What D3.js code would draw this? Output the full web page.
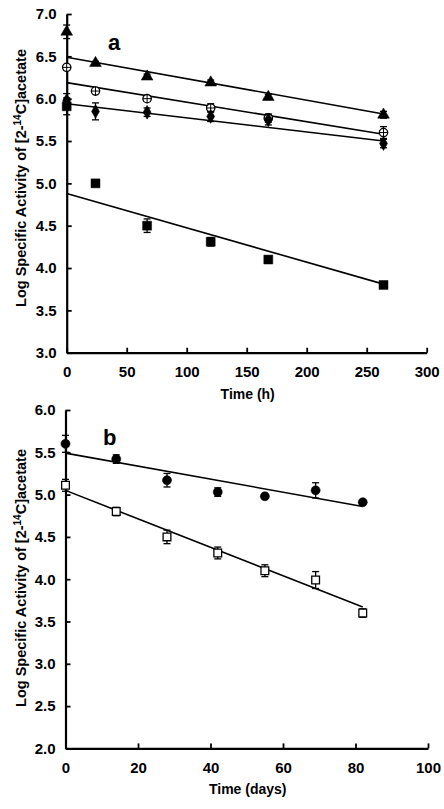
<!DOCTYPE html>
<html><head><meta charset="utf-8">
<script src="https://cdn.jsdelivr.net/npm/d3@7"></script>
<style>body{margin:0;background:#fff}svg text{font-family:"Liberation Sans",Arial,sans-serif;font-weight:bold;fill:#000}</style>
</head><body><svg id="c" width="444" height="809"></svg>
<script>
// Panel a: time in hours
const hoursA = [0, 24, 67, 120, 168, 264];
const triA = [6.79, 6.42, 6.26, 6.19, 6.02, 5.81];
const triErr = [0.08, 0.02, 0.03, 0.03, 0.03, 0.04];
const circA = [6.37, 6.09, 6.00, 5.89, 5.77, 5.60];
const circErr = [0.03, 0.02, 0.03, 0.05, 0.05, 0.07];
const diamA = [5.98, 5.85, 5.84, 5.79, 5.75, 5.47];
const diamErr = [0.08, 0.10, 0.05, 0.06, 0.06, 0.05];
const sqA = [5.91, 5.00, 4.50, 4.31, 4.10, 3.80];
const sqErr = [0.10, 0.01, 0.08, 0.05, 0.02, 0.02];
const fitTriA = [6.49, 5.82];
const fitCircA = [6.19, 5.58];
const fitDiamA = [5.94, 5.50];
const fitSqA = [4.88, 3.81];
const fitRangeA = [0, 264];
const xTicksA = [0, 50, 100, 150, 200, 250, 300];
const yTicksA = [3.0, 3.5, 4.0, 4.5, 5.0, 5.5, 6.0, 6.5, 7.0];

// Panel b: time in days
const daysB = [0, 14, 28, 42, 55, 69, 82];
const dotB = [5.60, 5.42, 5.17, 5.03, 4.98, 5.05, 4.91];
const dotErr = [0.10, 0.05, 0.08, 0.05, 0.01, 0.09, 0.01];
const openSqB = [5.11, 4.80, 4.50, 4.31, 4.10, 3.99, 3.60];
const openSqErr = [0.07, 0.05, 0.08, 0.07, 0.07, 0.10, 0.05];
const fitDotB = [5.49, 4.86];
const fitSqB = [5.05, 3.67];
const fitRangeB = [0, 82];
const xTicksB = [0, 20, 40, 60, 80, 100];
const yTicksB = [2.0, 2.5, 3.0, 3.5, 4.0, 4.5, 5.0, 5.5, 6.0];

const yTitle = "Log Specific Activity of [2-";
const svg = d3.select("#c");

function panel(cfg) {
  const g = svg.append("g");
  const x = d3.scaleLinear().domain(cfg.xDomain).range([cfg.left, cfg.right]);
  const y = d3.scaleLinear().domain(cfg.yDomain).range([cfg.bottom, cfg.top]);
  const xa = g.append("g").attr("transform", `translate(0,${cfg.bottom})`)
    .call(d3.axisBottom(x).tickValues(cfg.xTicks).tickSizeInner(-5).tickSizeOuter(0).tickPadding(14).tickFormat(d3.format("d")));
  const ya = g.append("g").attr("transform", `translate(${cfg.left},0)`)
    .call(d3.axisLeft(y).tickValues(cfg.yTicks).tickSizeInner(-5).tickSizeOuter(0).tickPadding(10).tickFormat(d3.format(".1f")));
  [xa, ya].forEach(a => {
    a.select(".domain").attr("stroke", "#000").attr("stroke-width", 2.2);
    a.selectAll(".tick line").attr("stroke", "#000").attr("stroke-width", 1.8);
    a.selectAll("text").style("font-size", "15px").attr("fill", "#000");
  });
  cfg.fits.forEach(f => {
    g.append("line").attr("x1", x(cfg.fitRange[0])).attr("x2", x(cfg.fitRange[1]))
      .attr("y1", y(f[0])).attr("y2", y(f[1])).attr("stroke", "#000").attr("stroke-width", 1.6);
  });
  cfg.series.forEach(s => {
    const sg = g.append("g");
    s.vals.forEach((v, i) => {
      const cx = x(cfg.xs[i]), cy = y(v), e = s.err[i];
      if (e > 0.015) {
        sg.append("line").attr("x1", cx).attr("x2", cx).attr("y1", y(v - e)).attr("y2", y(v + e)).attr("stroke", "#000").attr("stroke-width", 1.3);
        [v - e, v + e].forEach(t => sg.append("line").attr("x1", cx - 3.5).attr("x2", cx + 3.5).attr("y1", y(t)).attr("y2", y(t)).attr("stroke", "#000").attr("stroke-width", 1.3));
      }
      const sym = d3.symbol().type(s.type).size(s.size);
      sg.append("path").attr("d", sym()).attr("transform", `translate(${cx},${cy})`)
        .attr("fill", s.open ? "#fff" : "#000").attr("stroke", "#000").attr("stroke-width", s.open ? 1.3 : 0.5);
      if (s.cross) {
        sg.append("line").attr("x1", cx).attr("x2", cx).attr("y1", cy - 4.5).attr("y2", cy + 4.5).attr("stroke", "#000").attr("stroke-width", 1);
        sg.append("line").attr("x1", cx - 4.5).attr("x2", cx + 4.5).attr("y1", cy).attr("y2", cy).attr("stroke", "#000").attr("stroke-width", 1);
      }
    });
  });
  g.append("text").attr("x", cfg.letterX).attr("y", cfg.letterY).style("font-size", "22px").text(cfg.letter);
  g.append("text").attr("x", (cfg.left + cfg.right) / 2 + 1).attr("y", cfg.bottom + 46).attr("text-anchor", "middle").style("font-size", "14px").text(cfg.xTitle);
  const t = g.append("text").attr("transform", `translate(${cfg.titleX},${cfg.titleY}) rotate(-90)`).attr("text-anchor", "middle").style("font-size", "14.5px");
  t.append("tspan").text(yTitle);
  t.append("tspan").attr("dy", -5).style("font-size", "10px").text("14");
  t.append("tspan").attr("dy", 5).text("C]acetate");
}

panel({
  xDomain: [0, 300], yDomain: [3, 7], left: 66.7, right: 426.7, top: 14, bottom: 352.7,
  xTicks: xTicksA, yTicks: yTicksA, xs: hoursA, fitRange: fitRangeA,
  fits: [fitTriA, fitCircA, fitDiamA, fitSqA],
  series: [
    {vals: triA, err: triErr, type: d3.symbolTriangle, size: 60},
    {vals: circA, err: circErr, type: d3.symbolCircle, size: 55, open: true, cross: true},
    {vals: diamA, err: diamErr, type: d3.symbolDiamond, size: 55},
    {vals: sqA, err: sqErr, type: d3.symbolSquare, size: 80}
  ],
  letter: "a", letterX: 108, letterY: 50, xTitle: "Time (h)", titleX: 26, titleY: 178
});

panel({
  xDomain: [0, 100], yDomain: [2, 6], left: 65.5, right: 428, top: 410, bottom: 748.4,
  xTicks: xTicksB, yTicks: yTicksB, xs: daysB, fitRange: fitRangeB,
  fits: [fitDotB, fitSqB],
  series: [
    {vals: dotB, err: dotErr, type: d3.symbolCircle, size: 65},
    {vals: openSqB, err: openSqErr, type: d3.symbolSquare, size: 60, open: true}
  ],
  letter: "b", letterX: 103, letterY: 445, xTitle: "Time (days)", titleX: 26, titleY: 578
});
</script></body></html>
